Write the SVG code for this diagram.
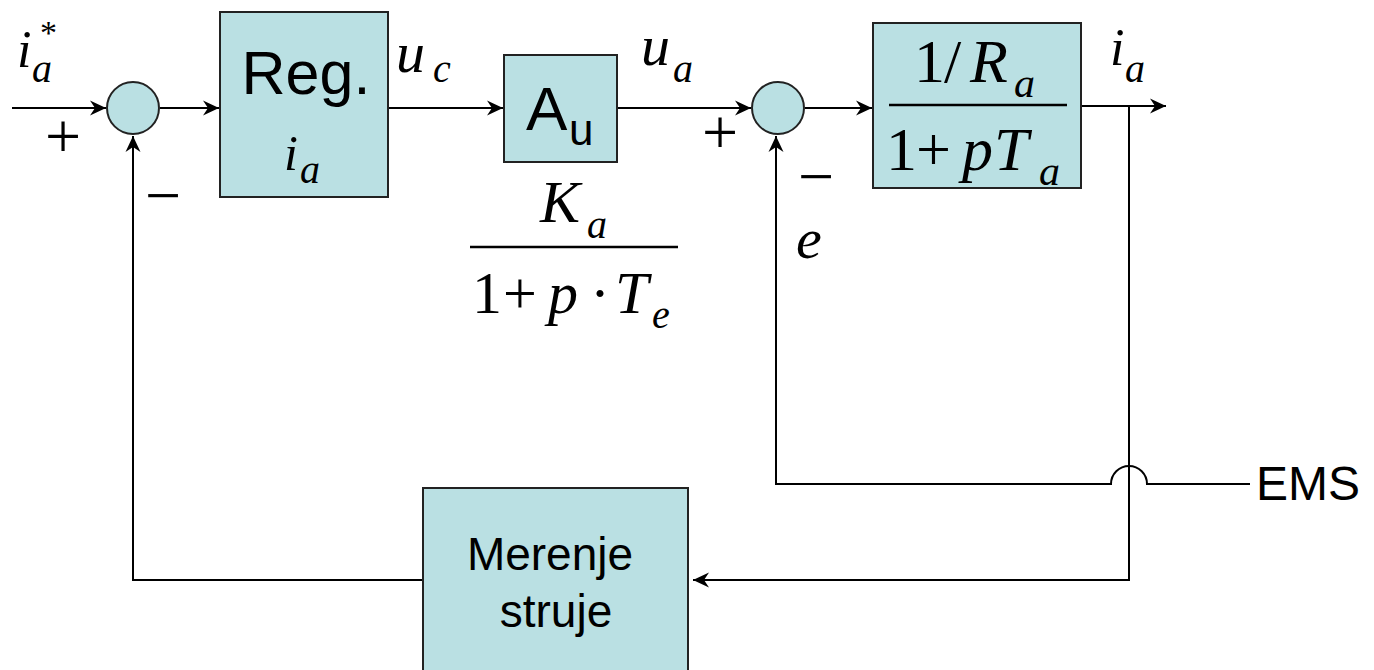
<svg xmlns="http://www.w3.org/2000/svg" width="1374" height="670" viewBox="0 0 1374 670">
<defs>
<style>
.blk{fill:#BAE0E3;stroke:#222;stroke-width:2}
.ln{fill:none;stroke:#000;stroke-width:2}
.sans{font-family:"Liberation Sans",Arial,sans-serif;fill:#000}
.m{font-family:"Liberation Serif","DejaVu Serif",serif;font-style:italic;fill:#000}
.r{font-family:"Liberation Serif","DejaVu Serif",serif;font-style:normal;fill:#000}
.frac{stroke:#000;stroke-width:2.5}
</style>
<marker id="arr" viewBox="-17 -8 19 16" refX="0" refY="0" markerWidth="19" markerHeight="16" markerUnits="userSpaceOnUse" orient="auto">
<path d="M0,0 L-16,-7.5 L-11,0 L-16,7.5 Z" fill="#000"/>
</marker>
</defs>
<rect width="1374" height="670" fill="#fff"/>

<g id="connectors">
<line class="ln" x1="12" y1="108" x2="106" y2="108" marker-end="url(#arr)"/>
<line class="ln" x1="160" y1="108" x2="219" y2="108" marker-end="url(#arr)"/>
<line class="ln" x1="388" y1="108" x2="503" y2="108" marker-end="url(#arr)"/>
<line class="ln" x1="617" y1="108" x2="751" y2="108" marker-end="url(#arr)"/>
<line class="ln" x1="805" y1="108" x2="872" y2="108" marker-end="url(#arr)"/>
<line class="ln" x1="1081" y1="106" x2="1166" y2="106" marker-end="url(#arr)"/>
<polyline class="ln" points="1129,106 1129,580 693,580" marker-end="url(#arr)"/>
<polyline class="ln" points="423,580 133,580 133,136" marker-end="url(#arr)"/>
<path class="ln" d="M1250,484 L1147,484 A18,18 0 0 0 1111,484 L776,484 L776,136" marker-end="url(#arr)"/>
</g>

<g id="sum1">
<circle class="blk" cx="133" cy="108" r="26"/>
<text class="r" x="63" y="158" font-size="64" text-anchor="middle">+</text>
<text class="r" x="163" y="217" font-size="64" text-anchor="middle">−</text>
</g>

<g id="input-label">
<text class="m" x="17" y="67" font-size="52">i</text>
<text class="m" x="32" y="82" font-size="40">a</text>
<text class="r" x="40" y="44" font-size="34">*</text>
</g>

<g id="reg">
<rect class="blk" x="220" y="12" width="168" height="185"/>
<text class="sans" x="306" y="94" font-size="61" text-anchor="middle">Reg.</text>
<text class="m" x="284" y="170" font-size="50">i</text>
<text class="m" x="300" y="183" font-size="40">a</text>
</g>

<g id="uc-label">
<text class="m" x="396" y="72" font-size="58">u</text>
<text class="m" x="433" y="82" font-size="40">c</text>
</g>

<g id="au">
<rect class="blk" x="504" y="55" width="113" height="107"/>
<text class="sans" x="526" y="130" font-size="62">A</text>
<text class="sans" x="569" y="145" font-size="44">u</text>
</g>

<g id="au-tf">
<text class="m" x="540" y="222" font-size="60">K</text>
<text class="m" x="587" y="238" font-size="40">a</text>
<line class="frac" x1="470" y1="247" x2="678" y2="247"/>
<text class="r" x="472" y="313" font-size="60">1</text>
<text class="r" x="503" y="313" font-size="60">+</text>
<text class="m" x="548" y="313" font-size="60">p</text>
<text class="r" x="590" y="313" font-size="60">·</text>
<text class="m" x="615" y="313" font-size="60">T</text>
<text class="m" x="652" y="328" font-size="40">e</text>
</g>

<g id="ua-label">
<text class="m" x="641" y="65" font-size="58">u</text>
<text class="m" x="673" y="82" font-size="40">a</text>
</g>

<g id="sum2">
<circle class="blk" cx="778" cy="108" r="26"/>
<text class="r" x="720" y="154" font-size="64" text-anchor="middle">+</text>
<text class="r" x="816" y="198" font-size="64" text-anchor="middle">−</text>
<text class="m" x="796" y="258" font-size="58">e</text>
</g>

<g id="armature">
<rect class="blk" x="873" y="23" width="208" height="165"/>
<text class="r" x="914" y="82" font-size="62">1</text>
<text class="r" x="944" y="82" font-size="62">/</text>
<text class="m" x="970" y="82" font-size="62">R</text>
<text class="m" x="1014" y="97" font-size="42">a</text>
<line class="frac" x1="889" y1="105" x2="1067" y2="105"/>
<text class="r" x="886" y="170" font-size="62">1</text>
<text class="r" x="916" y="170" font-size="62">+</text>
<text class="m" x="962" y="170" font-size="62">p</text>
<text class="m" x="994" y="170" font-size="62">T</text>
<text class="m" x="1039" y="185" font-size="42">a</text>
</g>

<g id="ia-label">
<text class="m" x="1110" y="65" font-size="52">i</text>
<text class="m" x="1125" y="82" font-size="40">a</text>
</g>

<g id="ems">
<text class="sans" x="1256" y="500" font-size="48">EMS</text>
</g>

<g id="merenje">
<rect class="blk" x="423" y="488" width="265" height="190"/>
<text class="sans" x="550" y="570" font-size="46" text-anchor="middle">Merenje</text>
<text class="sans" x="556" y="627" font-size="46" text-anchor="middle">struje</text>
</g>
</svg>
